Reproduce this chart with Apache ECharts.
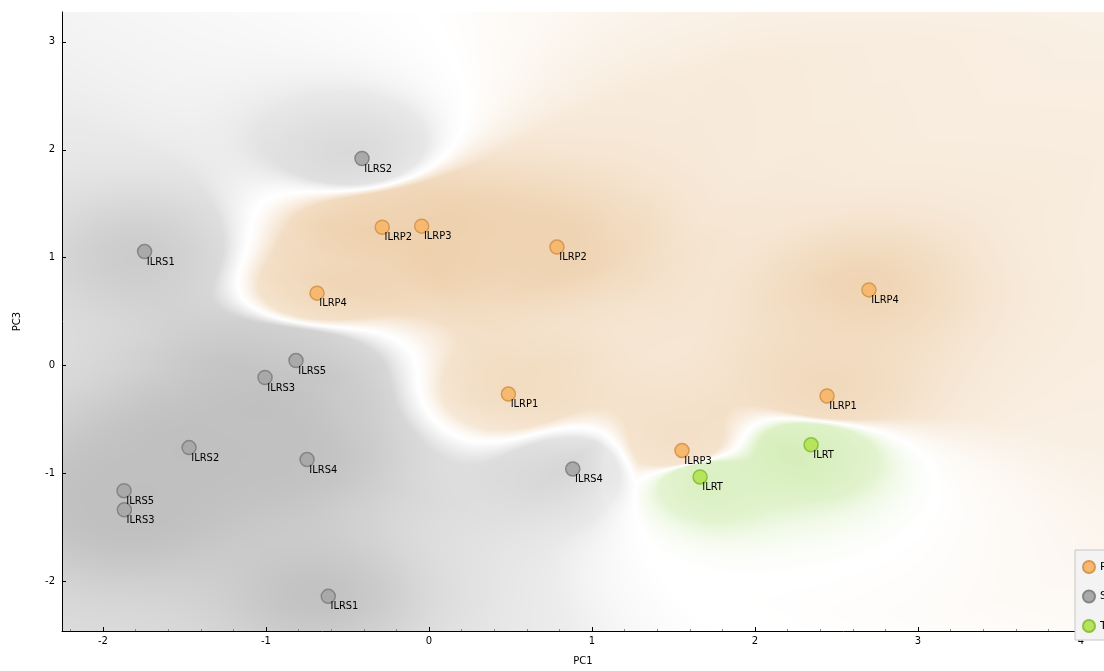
<!DOCTYPE html>
<html>
<head>
<meta charset="utf-8">
<title>PC1 / PC3</title>
<script src="https://cdn.jsdelivr.net/npm/echarts@6/dist/echarts.min.js"></script>
<style>
  html, body { margin: 0; padding: 0; background: #ffffff; }
  #chart { width: 1104px; height: 671px; }
</style>
</head>
<body>
<div id="chart"></div>
<script>
// ---- data: PCA scores (PC1, PC3) per sample, grouped by class ----
const classNames = ['P', 'S', 'T'];

const pLabels = ['ILRP2', 'ILRP3', 'ILRP2', 'ILRP4', 'ILRP4', 'ILRP1', 'ILRP1', 'ILRP3'];
const pPC1 = [-0.287, -0.045, 0.785, -0.687, 2.699, 0.487, 2.442, 1.552];
const pPC3 = [1.282, 1.292, 1.098, 0.671, 0.701, -0.265, -0.283, -0.787];

const sLabels = ['ILRS2', 'ILRS1', 'ILRS5', 'ILRS3', 'ILRS2', 'ILRS4', 'ILRS5', 'ILRS3', 'ILRS1', 'ILRS4'];
const sPC1 = [-0.411, -1.745, -0.816, -1.006, -1.472, -0.748, -1.871, -1.869, -0.618, 0.882];
const sPC3 = [1.919, 1.056, 0.046, -0.111, -0.761, -0.872, -1.160, -1.338, -2.140, -0.959];

const tLabels = ['ILRT', 'ILRT'];
const tPC1 = [2.344, 1.663];
const tPC3 = [-0.735, -1.033];

// axis ranges and tick labels
const X_MIN = -2.2515, X_MAX = 4.141;
const Y_MIN = -2.461, Y_MAX = 3.277;
const xTickValues = [-2, -1, 0, 1, 2, 3, 4];
const yTickValues = [-2, -1, 0, 1, 2, 3];

// ---- styling ----
const FONT = 'DejaVu Sans';
const LABEL_FONT = "'DejaVu Sans Condensed', 'DejaVu Sans'";
const pointFill = ['#f7b86f', '#a9a9a9', '#b7e45c'];
const pointEdge = ['#d79852', '#858585', '#8cc23c'];
const regionBase = [[229, 184, 130], [164, 164, 164], [180, 224, 130]];

// minor ticks: five subdivisions of each unit step
function minorValues(lo, hi) {
  const out = [];
  const start = Math.ceil(lo * 5), end = Math.floor(hi * 5);
  for (let k = start; k <= end; k++) if (k % 5 !== 0) out.push(k / 5);
  return out;
}

function seriesData(xs, ys, labels) {
  return xs.map((x, i) => ({ value: [x, ys[i]], name: labels[i] }));
}

const groups = [
  { x: pPC1, y: pPC3, labels: pLabels },
  { x: sPC1, y: sPC3, labels: sLabels },
  { x: tPC1, y: tPC3, labels: tLabels }
];

// ---- class-density colouring of the plane ----
// Inverse-distance class votes pick the class and the white borders, a broad
// Gaussian vote (width set by the k-th nearest sample) sets how certain the
// region is, and samples of the winning class darken their surroundings.
let densityCanvas = null;
function buildDensity(w, h) {
  const pts = [];
  groups.forEach((g, c) => {
    g.x.forEach((x, i) => {
      pts.push({ u: (x - X_MIN) / (X_MAX - X_MIN), v: (g.y[i] - Y_MIN) / (Y_MAX - Y_MIN), c: c });
    });
  });
  const n = pts.length;
  const K = Math.floor(Math.sqrt(n));
  const broad = 1.0;                  // (bandwidth / k-th distance)^2
  const densS2 = 2 * 0.075 * 0.075;   // local darkening kernel
  const gain = 4.0;
  const A = 0.40, B = 0.30;
  const cvs = document.createElement('canvas');
  cvs.width = w; cvs.height = h;
  const ctx = cvs.getContext('2d');
  const img = ctx.createImageData(w, h);
  const d2 = new Float64Array(n);
  const sel = new Float64Array(n);
  for (let j = 0; j < h; j++) {
    const v = 1 - (j + 0.5) / h;
    for (let i = 0; i < w; i++) {
      const u = (i + 0.5) / w;
      for (let p = 0; p < n; p++) {
        const du = u - pts[p].u, dv = v - pts[p].v;
        d2[p] = du * du + dv * dv + 1e-7;
        sel[p] = d2[p];
      }
      for (let a = 0; a < K; a++) {
        let m = a;
        for (let b = a + 1; b < n; b++) if (sel[b] < sel[m]) m = b;
        const t = sel[a]; sel[a] = sel[m]; sel[m] = t;
      }
      const sB = broad * sel[K - 1];
      const V = [0, 0, 0], VB = [0, 0, 0];
      for (let p = 0; p < n; p++) {
        V[pts[p].c] += 1 / d2[p];
        VB[pts[p].c] += Math.exp(-d2[p] / sB);
      }
      const tot = V[0] + V[1] + V[2];
      let best = 0;
      for (let c = 1; c < 3; c++) if (V[c] > V[best]) best = c;
      let second = 0;
      for (let c = 0; c < 3; c++) if (c !== best && V[c] > second) second = V[c];
      const edge = Math.min(1, gain * (V[best] - second) / tot);
      const pb = VB[best] / (VB[0] + VB[1] + VB[2]);
      const cert = Math.pow(Math.max(0, (pb - 1 / 3) / (2 / 3)), 0.6);
      let far = 1;
      for (let p = 0; p < n; p++) {
        if (pts[p].c === best) far *= 1 - Math.exp(-d2[p] / densS2);
      }
      const near = 1 - far;
      const a = edge * (A * cert + B * near);
      const base = regionBase[best];
      const o = (j * w + i) * 4;
      img.data[o] = 255 - (255 - base[0]) * a;
      img.data[o + 1] = 255 - (255 - base[1]) * a;
      img.data[o + 2] = 255 - (255 - base[2]) * a;
      img.data[o + 3] = 255;
    }
  }
  ctx.putImageData(img, 0, 0);
  return cvs;
}

function renderDensity(params, api) {
  const tl = api.coord([X_MIN, Y_MAX]);
  const br = api.coord([X_MAX, Y_MIN]);
  const w = Math.max(1, Math.round(br[0] - tl[0]));
  const h = Math.max(1, Math.round(br[1] - tl[1]));
  if (!densityCanvas || densityCanvas.width !== w || densityCanvas.height !== h) {
    densityCanvas = buildDensity(w, h);
  }
  return {
    type: 'image',
    silent: true,
    style: { image: densityCanvas, x: tl[0], y: tl[1], width: w, height: h }
  };
}

const axisText = { color: '#000', fontFamily: FONT, fontSize: 10 };

const chart = echarts.init(document.getElementById('chart'), null, { renderer: 'canvas' });

const scatterSeries = groups.map((g, c) => ({
  name: classNames[c],
  type: 'scatter',
  xAxisIndex: 0,
  yAxisIndex: 0,
  z: 3,
  symbol: 'circle',
  symbolSize: 14,
  data: seriesData(g.x, g.y, g.labels),
  itemStyle: { color: pointFill[c], borderColor: pointEdge[c], borderWidth: 1.5, opacity: 1 },
  label: {
    show: true,
    formatter: '{b}',
    position: [10, 18],
    align: 'left',
    verticalAlign: 'middle',
    color: '#000',
    fontFamily: LABEL_FONT,
    fontSize: 11
  },
  emphasis: { disabled: true }
}));

chart.setOption({
  animation: false,
  backgroundColor: '#ffffff',
  grid: { left: 62, top: 12, right: 0, bottom: 37, containLabel: false },
  legend: {
    data: classNames,
    orient: 'vertical',
    left: 1075,
    top: 550,
    padding: [10, 30, 7, 7],
    itemWidth: 12,
    itemHeight: 12,
    itemGap: 15.5,
    icon: 'circle',
    backgroundColor: '#f3f3f3',
    borderColor: '#c6c6c6',
    borderWidth: 1,
    textStyle: { color: '#000', fontFamily: FONT, fontSize: 11 },
    selectedMode: false
  },
  xAxis: [
    {
      type: 'value', min: X_MIN, max: X_MAX,
      name: 'PC1', nameLocation: 'middle', nameGap: 25,
      nameTextStyle: axisText,
      axisLine: { show: true, onZero: false, lineStyle: { color: '#000', width: 1 } },
      axisTick: { show: true, inside: true, length: 4, customValues: xTickValues, lineStyle: { color: '#000' } },
      axisLabel: { customValues: xTickValues, margin: 5, ...axisText },
      splitLine: { show: false }
    },
    {
      type: 'value', min: X_MIN, max: X_MAX, position: 'bottom',
      axisLine: { show: false, onZero: false },
      axisTick: { show: true, inside: true, length: 2, customValues: minorValues(X_MIN, X_MAX), lineStyle: { color: '#8a8a8a' } },
      axisLabel: { show: false },
      splitLine: { show: false }
    }
  ],
  yAxis: [
    {
      type: 'value', min: Y_MIN, max: Y_MAX,
      name: 'PC3', nameLocation: 'middle', nameGap: 40,
      nameTextStyle: axisText,
      axisLine: { show: true, onZero: false, lineStyle: { color: '#000', width: 1 } },
      axisTick: { show: true, inside: true, length: 4, customValues: yTickValues, lineStyle: { color: '#000' } },
      axisLabel: { customValues: yTickValues, margin: 7, ...axisText },
      splitLine: { show: false }
    }
  ],
  series: [
    {
      type: 'custom',
      name: 'density',
      xAxisIndex: 0,
      yAxisIndex: 0,
      z: 0,
      silent: true,
      clip: true,
      renderItem: renderDensity,
      data: [[X_MIN, Y_MIN]],
      encode: { x: 0, y: 1 }
    }
  ].concat(scatterSeries)
});
</script>
</body>
</html>
